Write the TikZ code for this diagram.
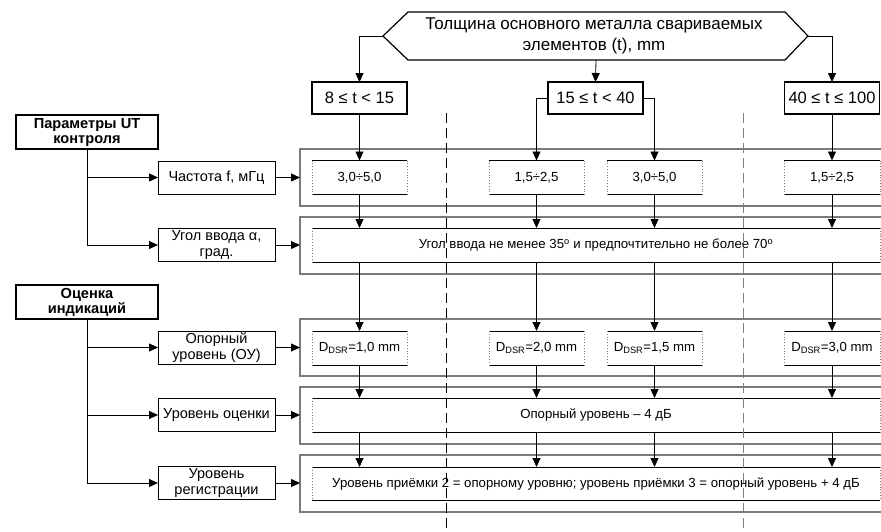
\documentclass[tikz,border=0pt]{standalone}
\usepackage{fontspec}
\setmainfont{Liberation Sans}
\usetikzlibrary{arrows.meta}
\definecolor{frame}{HTML}{7A7A7A}
\begin{document}
\begin{tikzpicture}[x=1pt,y=-1pt,
  every node/.style={inner sep=0pt, outer sep=0pt, align=center, font=\fontsize{14.5}{15.5}\selectfont},
  lbox/.style={draw, line width=1pt, minimum width=117pt, minimum height=33pt},
  hbox/.style={draw, line width=1.4pt, minimum width=142pt, minimum height=34pt, font=\bfseries\fontsize{14.6}{15}\selectfont},
  tbox/.style={draw, line width=1.8pt, minimum width=95pt, minimum height=32pt, font=\fontsize{16.5}{17}\selectfont},
  ibox/.style={minimum height=34pt, font=\fontsize{13.2}{14}\selectfont},
  arr/.style={-{Triangle[length=9pt,width=8pt]}, line width=0.8pt},
  outerbox/.style={draw=frame, line width=2pt},
  topedge/.style={line width=1pt},
  sideedge/.style={draw=gray, line width=0.8pt, dotted},
]
\useasboundingbox (0,0) rectangle (881,531);

% outer frames
\foreach \t/\b in {149/206, 217/274, 319/376, 387/444, 455/512}
  \draw[outerbox] (881,\t) -- (300,\t) -- (300,\b) -- (881,\b);

% hexagon
\draw[line width=1.2pt] (383,36) -- (408,12) -- (785,12) -- (808,36) -- (785,60) -- (408,60) -- cycle;
\node[font=\fontsize{17}{21}\selectfont] (hex) at (594,36) {Толщина основного металла свариваемых\\элементов (t), mm};
\coordinate (hexL) at (383,36);
\coordinate (hexR) at (808,36);
\coordinate (hexB) at (596,60);

% thickness boxes
\node[tbox] (A) at (359.5,98) {8 ≤ t < 15};
\node[tbox] (B) at (595.5,98) {15 ≤ t < 40};
\node[tbox] (C) at (832,98) {40 ≤ t ≤ 100};

% left headers and boxes
\node[hbox] (h1) at (87,132) {Параметры UT\\контроля};
\node[hbox] (h2) at (87,302) {Оценка\\индикаций};
\node[lbox] (frq) at (216.5,177.5) {Частота f, мГц};
\node[lbox] (ugl) at (216.5,245) {Угол ввода α,\\град.};
\node[lbox] (opr) at (216.5,347.5) {Опорный\\уровень (ОУ)};
\node[lbox] (ocn) at (216.5,415) {Уровень оценки};
\node[lbox] (rgs) at (216.5,483) {Уровень\\регистрации};

% inner boxes
\node[ibox, minimum width=95pt] (f1) at (359.5,177.5) {3,0÷5,0};
\node[ibox, minimum width=95pt] (f2) at (536.5,177.5) {1,5÷2,5};
\node[ibox, minimum width=95pt] (f3) at (654.5,177.5) {3,0÷5,0};
\node[ibox, minimum width=96pt] (f4) at (832,177.5) {1,5÷2,5};
\node[ibox, minimum width=568pt] (ang) at (596,245) {Угол ввода не менее 35\textsuperscript{o} и предпочтительно не более 70\textsuperscript{o}};
\node[ibox, minimum width=95pt] (d1) at (359.5,348) {D\textsubscript{DSR}=1,0 mm};
\node[ibox, minimum width=95pt] (d2) at (536.5,348) {D\textsubscript{DSR}=2,0 mm};
\node[ibox, minimum width=95pt] (d3) at (654.5,348) {D\textsubscript{DSR}=1,5 mm};
\node[ibox, minimum width=96pt] (d4) at (832,348) {D\textsubscript{DSR}=3,0 mm};
\node[ibox, minimum width=568pt] (ev) at (596,415) {Опорный уровень – 4 дБ};
\node[ibox, minimum width=568pt, minimum height=33pt] (rg) at (596,483.5) {Уровень приёмки 2 = опорному уровню; уровень приёмки 3 = опорный уровень + 4 дБ};

\foreach \n in {f1,f2,f3,f4,ang,d1,d2,d3,d4,ev,rg}{
  \draw[topedge] (\n.north west) -- (\n.north east);
  \draw[topedge] (\n.south west) -- (\n.south east);
  \draw[sideedge] (\n.north west) -- (\n.south west);
  \draw[sideedge] (\n.north east) -- (\n.south east);
}

% frame entry points
\coordinate (o1) at (300,177.5);
\coordinate (o2) at (300,245);
\coordinate (o3) at (300,347.5);
\coordinate (o4) at (300,415);
\coordinate (o5) at (300,483);

% dashed separators
\draw[line width=1pt, dash pattern=on 10pt off 5pt] (446.5,113) -- (446.5,531);
\draw[line width=0.8pt, draw=gray, dash pattern=on 10pt off 5pt] (743,113) -- (743,531);

% top connectors
\draw[arr] (hexL) -| (A.north);
\draw[arr] (hexB) -- (B.north);
\draw[arr] (hexR) -| (C.north);
\draw[arr] (A.south) -- (f1.north);
\draw[arr] (B.west) -| (f2.north);
\draw[arr] (B.east) -| (f3.north);
\draw[arr] (C.south) -- (f4.north);

% vertical chains
\foreach \n/\m in {f1/d1,f2/d2,f3/d3,f4/d4}{
  \draw[arr] (\n.south) -- (\n.south |- ang.north);
  \draw[arr] (\n.south |- ang.south) -- (\m.north);
  \draw[arr] (\m.south) -- (\m.south |- ev.north);
  \draw[arr] (\m.south |- ev.south) -- (\m.south |- rg.north);
}

% left connectors
\draw[arr] (h1.south) |- (frq.west);
\draw[arr] (h1.south) |- (ugl.west);
\draw[arr] (h2.south) |- (opr.west);
\draw[arr] (h2.south) |- (ocn.west);
\draw[arr] (h2.south) |- (rgs.west);
\draw[arr] (frq.east) -- (o1);
\draw[arr] (ugl.east) -- (o2);
\draw[arr] (opr.east) -- (o3);
\draw[arr] (ocn.east) -- (o4);
\draw[arr] (rgs.east) -- (o5);
\end{tikzpicture}
\end{document}
